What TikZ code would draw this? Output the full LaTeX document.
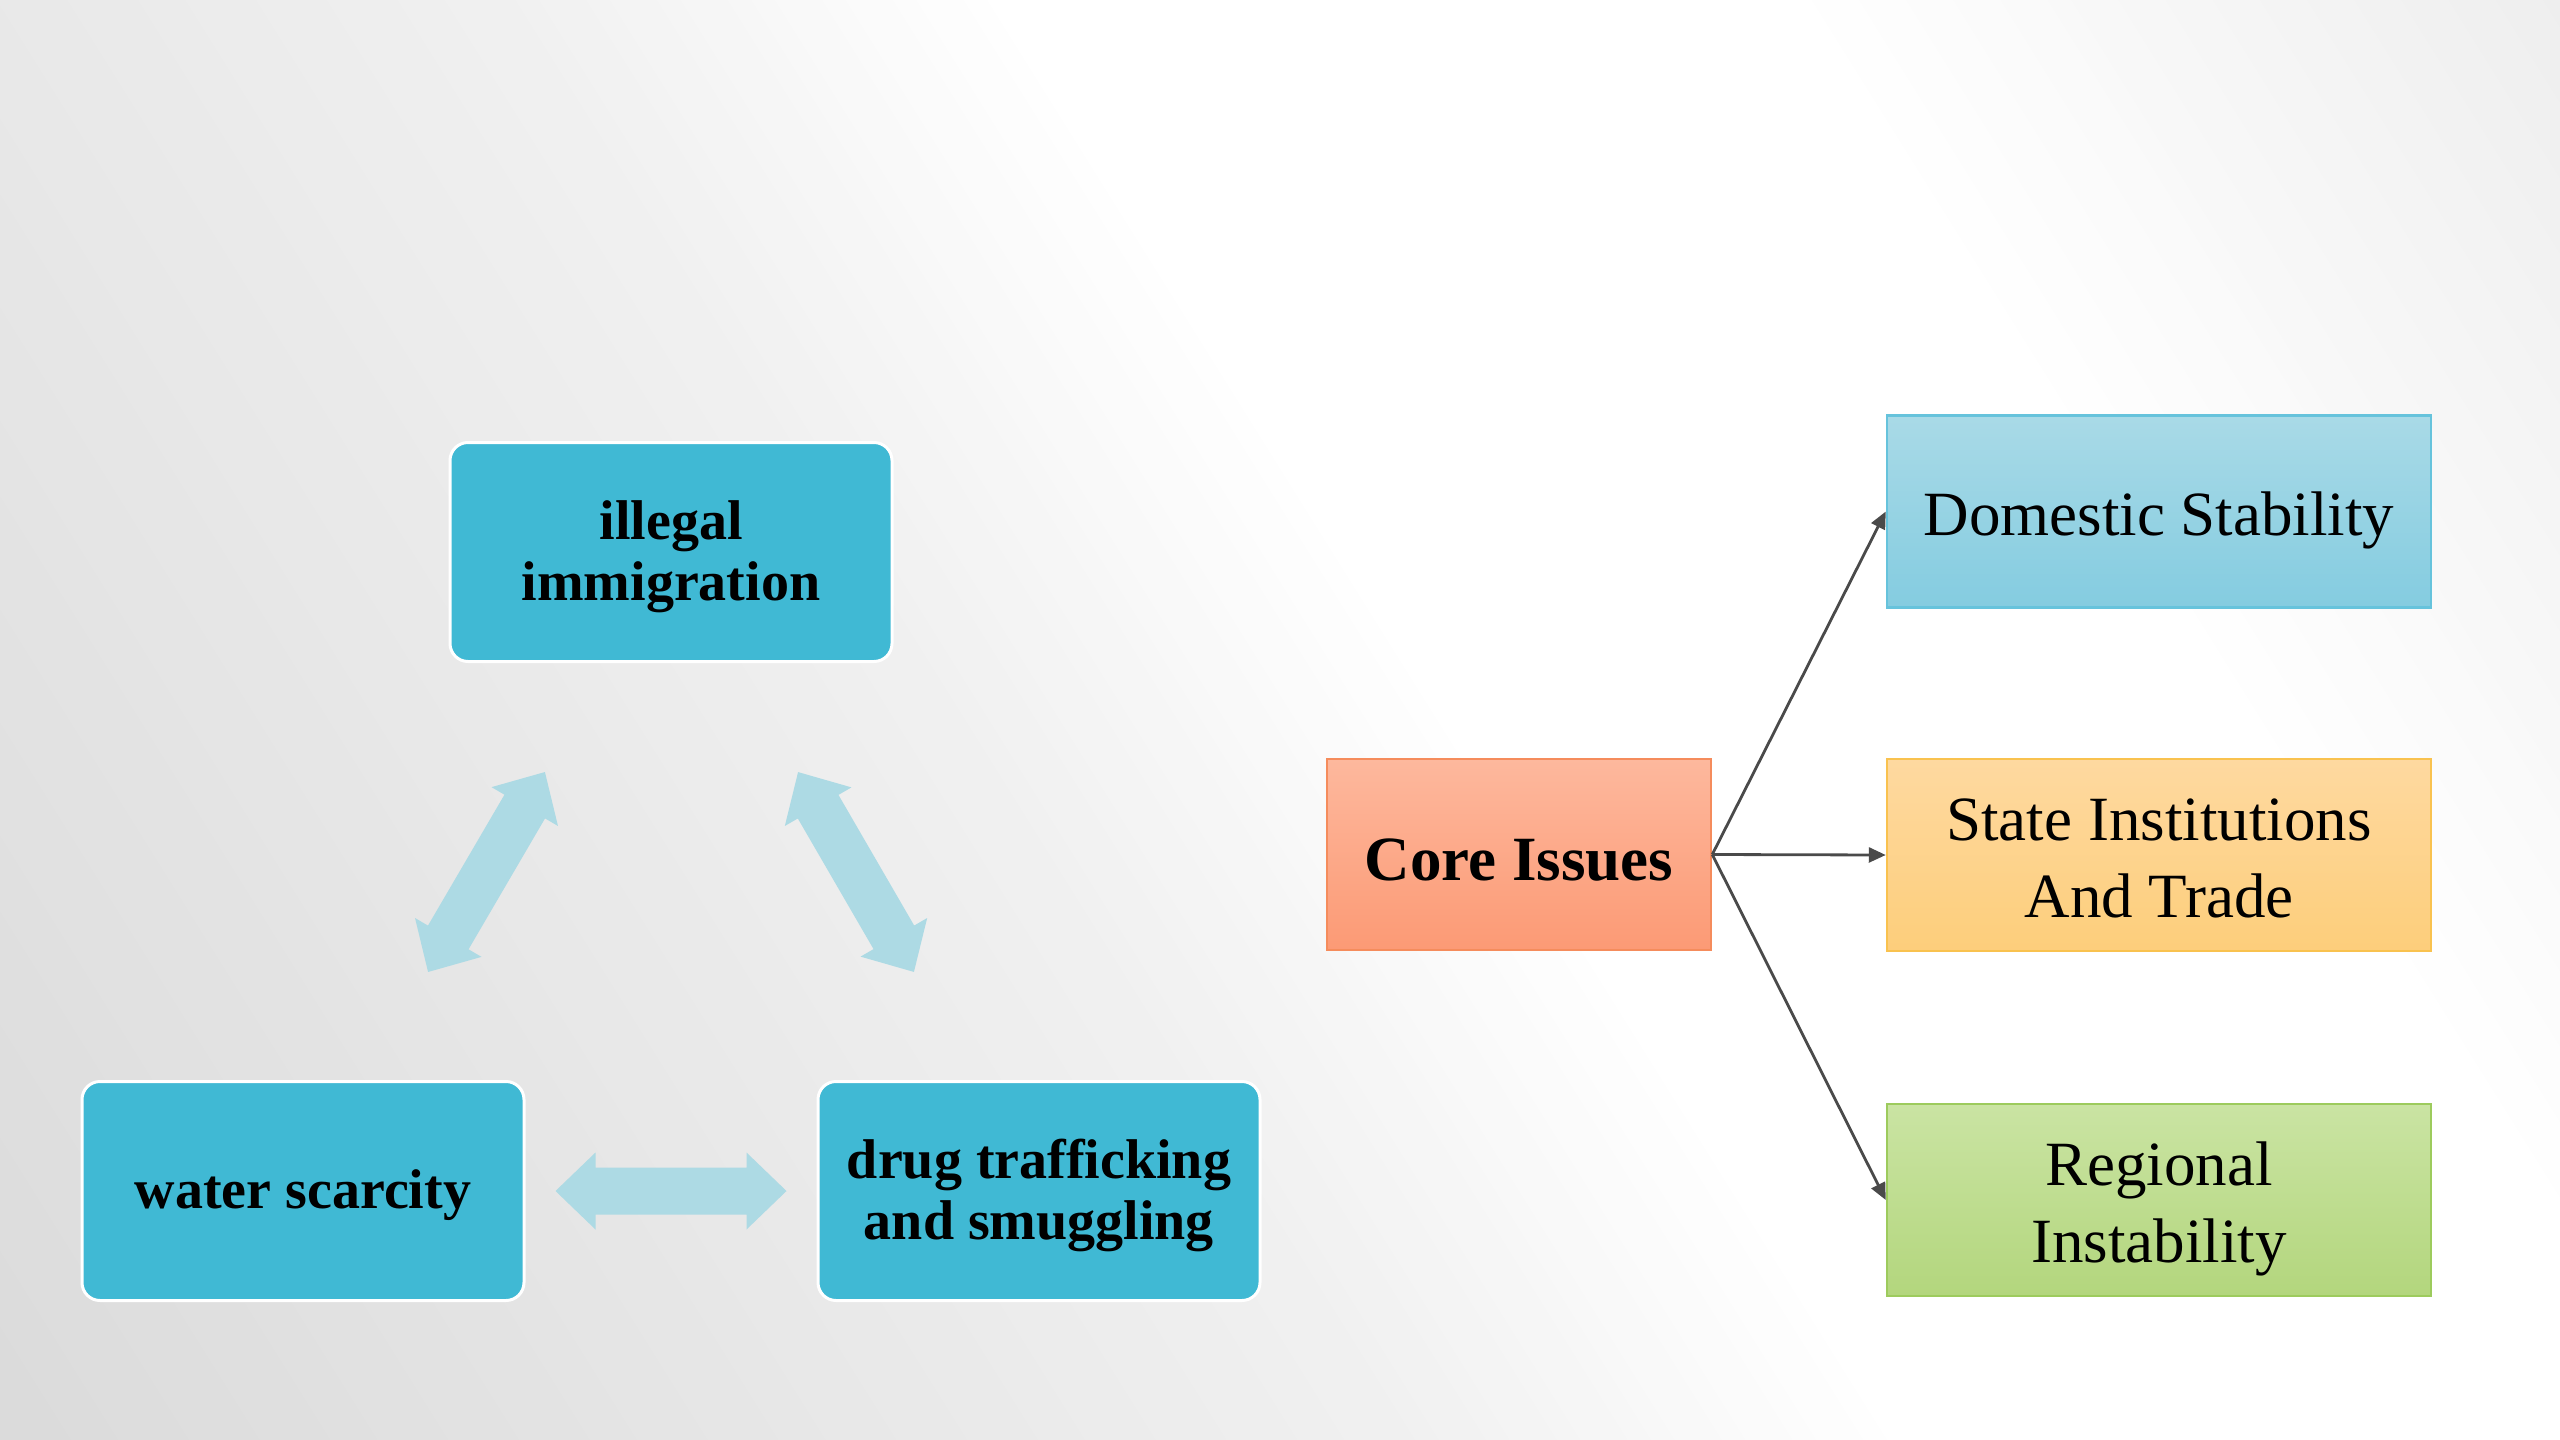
\documentclass[tikz,border=0pt]{standalone}
\usepackage{fontspec}
\setmainfont{Liberation Serif}
\usetikzlibrary{arrows.meta,calc}
\definecolor{tealc}{HTML}{40B9D4}
\definecolor{arrowblue}{HTML}{ADDAE4}
\definecolor{arrowgray}{HTML}{4A4A4A}
\definecolor{coretop}{HTML}{FDB89D}
\definecolor{corebot}{HTML}{FC9A75}
\definecolor{coreedge}{HTML}{F58C5C}
\definecolor{domtop}{HTML}{A9DAE7}
\definecolor{dombot}{HTML}{84CCE0}
\definecolor{domedge}{HTML}{66C3DC}
\definecolor{sttop}{HTML}{FED9A0}
\definecolor{stbot}{HTML}{FDCE7B}
\definecolor{stedge}{HTML}{F9C24F}
\definecolor{rgtop}{HTML}{CAE4A3}
\definecolor{rgbot}{HTML}{B3D67D}
\definecolor{rgedge}{HTML}{9DCB5D}
\newcommand\mystrutT{\rule[-0.21em]{0pt}{1.063em}}
\newcommand\mystrutC{\rule[-0.22em]{0pt}{1.265em}}
\newcommand\mystrutR{\rule[-0.22em]{0pt}{1.186em}}
% double arrow outline, #1 = half length
\newcommand\dblarrowpath[1]{(-#1,0) -- (-#1+40,38.5) -- (-#1+40,23.5) -- (#1-40,23.5) -- (#1-40,38.5) -- (#1,0) -- (#1-40,-38.5) -- (#1-40,-23.5) -- (-#1+40,-23.5) -- (-#1+40,-38.5) -- cycle}
\tikzset{
  tealbox/.style={rectangle, rounded corners=18pt, fill=tealc, draw=white, line width=3pt,
    minimum width=442pt, minimum height=219pt, align=center, inner sep=0pt,
    font=\fontsize{56}{60}\selectfont\bfseries, text=black},
  flatbox/.style={rectangle, line width=2.5pt, minimum width=544pt, minimum height=192pt,
    align=center, inner sep=0pt, font=\fontsize{63}{77}\selectfont, text=black},
  conn/.style={draw=arrowgray, line width=2.8pt, -{Triangle[length=17pt,width=15pt]}},
  bigarrow/.style={fill=arrowblue, draw=none}
}
\begin{document}
\begin{tikzpicture}[x=1pt,y=-1pt]
\useasboundingbox (0,0) rectangle (2560,1440);
% background
\begin{scope}
\clip (0,0) rectangle (2560,1440);
\begin{scope}[shift={(0,1440)}, y=1pt, rotate=32]
\foreach \i in {0,...,147}{
  \pgfmathsetmacro{\u}{(\i*20+10)/100}
  \pgfmathtruncatemacro{\g}{\u<6 ? 219+11*\u/6 : (\u<12 ? 230+11*(\u-6)/6 : (\u<16 ? 241+14*(\u-12)/4 : (\u<23 ? 255 : 255-17*(\u-23)/6.5)))}
  \definecolor{bgc}{RGB}{\g,\g,\g}
  \fill[bgc] (\i*20,-1400) rectangle (\i*20+21,1250);
}
\end{scope}
\end{scope}

% left cycle
\node[tealbox] (ill) at (671,552) {\mystrutT illegal\\\mystrutT immigration};
\node[tealbox] (water) at (303,1191) {\mystrutT water scarcity};
\node[tealbox] (drug) at (1039,1191) {\mystrutT drug trafficking\\\mystrutT and smuggling};

\coordinate (dhc) at ($(water.east)!0.5!(drug.west)$);
\coordinate (dlc) at (486.5,872);
\coordinate (drc) at (856,872);
\fill[bigarrow, shift={(dhc)}] \dblarrowpath{115.5};
\fill[bigarrow, shift={(dlc)}, rotate=59.7] \dblarrowpath{115.8};
\fill[bigarrow, shift={(drc)}, rotate=-59.9] \dblarrowpath{115.5};

% right tree
\node[flatbox, minimum width=384pt, minimum height=191pt, top color=coretop, bottom color=corebot, draw=coreedge,
  font=\fontsize{63}{76}\selectfont\bfseries] (core) at (1519,854.5) {\mystrutC Core Issues};
\node[flatbox, top color=domtop, bottom color=dombot, draw=domedge] (dom) at (2159,511.5) {\mystrutR Domestic Stability};
\node[flatbox, top color=sttop, bottom color=stbot, draw=stedge] (state) at (2159,855) {\mystrutR State Institutions\\\mystrutR And Trade};
\node[flatbox, top color=rgtop, bottom color=rgbot, draw=rgedge] (reg) at (2159,1200) {\mystrutR Regional\\\mystrutR Instability};

\draw[conn] (core.east) -- (dom.west);
\draw[conn] (core.east) -- (state.west);
\draw[conn] (core.east) -- (reg.west);
\end{tikzpicture}
\end{document}
